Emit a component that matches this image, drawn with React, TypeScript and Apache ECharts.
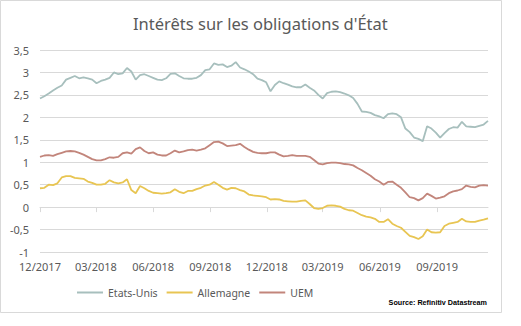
import React, { useEffect, useRef } from "react";
import * as echarts from "echarts";

// Weekly readings (Friday closes) starting 2017-12-01, one value per week
const usRates = [
  2.42, 2.47, 2.53, 2.60, 2.66, 2.71, 2.84, 2.88, 2.92, 2.87,
  2.89, 2.87, 2.84, 2.76, 2.81, 2.84, 2.88, 3.00, 2.96, 2.98,
  3.10, 3.02, 2.84, 2.94, 2.96, 2.92, 2.88, 2.84, 2.83, 2.87,
  2.97, 2.98, 2.92, 2.87, 2.86, 2.86, 2.88, 2.94, 3.05, 3.07,
  3.20, 3.17, 3.18, 3.12, 3.15, 3.23, 3.11, 3.07, 3.02, 2.96,
  2.86, 2.83, 2.78, 2.58, 2.72, 2.80, 2.76, 2.73, 2.69, 2.67,
  2.67, 2.73, 2.66, 2.60, 2.50, 2.42, 2.54, 2.57, 2.58, 2.56,
  2.53, 2.49, 2.43, 2.30, 2.13, 2.12, 2.10, 2.05, 2.02, 1.98,
  2.07, 2.09, 2.07, 2.00, 1.75, 1.67, 1.55, 1.52, 1.47, 1.80,
  1.75, 1.66, 1.55, 1.65, 1.74, 1.78, 1.77, 1.90, 1.80, 1.79,
  1.78, 1.81, 1.84, 1.92,
];

const deRates = [
  0.42, 0.43, 0.50, 0.49, 0.53, 0.66, 0.69, 0.69, 0.65, 0.64,
  0.63, 0.57, 0.54, 0.50, 0.50, 0.52, 0.60, 0.55, 0.53, 0.55,
  0.62, 0.38, 0.31, 0.47, 0.42, 0.36, 0.32, 0.31, 0.30, 0.31,
  0.33, 0.40, 0.34, 0.31, 0.36, 0.36, 0.40, 0.43, 0.48, 0.50,
  0.56, 0.50, 0.43, 0.39, 0.43, 0.42, 0.38, 0.35, 0.28, 0.26,
  0.25, 0.24, 0.22, 0.17, 0.18, 0.17, 0.14, 0.13, 0.12, 0.12,
  0.14, 0.15, 0.07, -0.02, -0.04, -0.02, 0.03, 0.04, 0.03, 0.01,
  -0.04, -0.07, -0.08, -0.13, -0.18, -0.21, -0.23, -0.26, -0.33, -0.33,
  -0.27, -0.37, -0.42, -0.46, -0.55, -0.64, -0.67, -0.71, -0.65, -0.50,
  -0.56, -0.57, -0.56, -0.42, -0.37, -0.35, -0.33, -0.26, -0.32, -0.33,
  -0.33, -0.30, -0.28, -0.25,
];

const uemRates = [
  1.12, 1.15, 1.16, 1.14, 1.18, 1.21, 1.24, 1.25, 1.24, 1.21,
  1.17, 1.12, 1.07, 1.04, 1.04, 1.07, 1.11, 1.10, 1.12, 1.20,
  1.22, 1.19, 1.29, 1.33, 1.25, 1.20, 1.22, 1.17, 1.15, 1.15,
  1.20, 1.26, 1.22, 1.24, 1.27, 1.28, 1.26, 1.28, 1.31, 1.38,
  1.45, 1.46, 1.42, 1.36, 1.37, 1.38, 1.41, 1.34, 1.28, 1.23,
  1.21, 1.20, 1.20, 1.22, 1.22, 1.17, 1.13, 1.14, 1.16, 1.14,
  1.14, 1.14, 1.12, 1.05, 0.97, 0.95, 0.98, 0.99, 0.99, 0.98,
  0.96, 0.95, 0.93, 0.87, 0.82, 0.76, 0.70, 0.62, 0.57, 0.50,
  0.56, 0.57, 0.50, 0.43, 0.33, 0.22, 0.20, 0.15, 0.20, 0.30,
  0.25, 0.19, 0.21, 0.24, 0.31, 0.35, 0.37, 0.40, 0.48, 0.45,
  0.44, 0.48, 0.49, 0.48,
];

const seriesNames = ["Etats-Unis", "Allemagne", "UEM"];
const seriesColors = ["#a7bfbd", "#e8c552", "#c2857b"];
const tickMonths = ["12", "03", "06", "09"];
const yTicks = { min: -1, max: 3.5, interval: 0.5 };

const START = Date.UTC(2017, 11, 1);
const DAY = 86400000;
const N_DAYS = (usRates.length - 1) * 7 + 1;
const categories = Array.from({ length: N_DAYS }, (_, d) =>
  new Date(START + d * DAY).toISOString().slice(0, 10)
);

const isQuarterTick = (_i: number, v: string) =>
  v.slice(8, 10) === "01" && tickMonths.includes(v.slice(5, 7));

const FONT = "Noto Sans";

export default function App() {
  const ref = useRef<HTMLDivElement>(null);
  useEffect(() => {
    if (!ref.current) return;
    const chart = echarts.init(ref.current, undefined, { renderer: "svg" });
    const toPairs = (arr: number[]) => arr.map((v, i) => [i * 7, v]);
    const all = [usRates, deRates, uemRates];
    chart.setOption({
      animation: false,
      backgroundColor: "#ffffff",
      title: {
        text: "Intérêts sur les obligations d'État",
        left: 128,
        top: 10,
        textStyle: { fontFamily: FONT, fontSize: 16.5, fontWeight: "normal", color: "#595959" },
      },
      grid: { left: 40, right: 33, top: 50, bottom: 74, containLabel: false, outerBoundsMode: "none" },
      legend: {
        left: 72,
        top: 282,
        itemWidth: 26,
        itemHeight: 2,
        itemGap: 9,
        icon: "rect",
        data: seriesNames,
        textStyle: { fontFamily: FONT, fontSize: 10.5, color: "#595959" },
      },
      xAxis: [
        {
          type: "category",
          data: categories,
          boundaryGap: false,
          position: "bottom",
          axisLine: { show: true, onZero: true, lineStyle: { color: "#d9d9d9", width: 1 } },
          axisTick: { show: true, interval: isQuarterTick, length: 5, lineStyle: { color: "#d9d9d9" } },
          axisLabel: { show: false },
          splitLine: { show: false },
        },
        {
          type: "category",
          data: categories,
          boundaryGap: false,
          position: "bottom",
          axisLine: { show: false, onZero: false },
          axisTick: { show: false },
          axisLabel: {
            show: true,
            interval: isQuarterTick,
            margin: 9,
            formatter: (v: string) => `${v.slice(5, 7)}/${v.slice(0, 4)}`,
            fontFamily: FONT,
            fontSize: 11,
            color: "#595959",
          },
          splitLine: { show: false },
        },
      ],
      yAxis: {
        type: "value",
        min: yTicks.min,
        max: yTicks.max,
        interval: yTicks.interval,
        axisLine: { show: false },
        axisTick: { show: false },
        axisLabel: {
          margin: 11,
          fontFamily: FONT,
          fontSize: 11,
          color: "#595959",
          formatter: (v: number) => String(v).replace(".", ","),
        },
        splitLine: { lineStyle: { color: "#d9d9d9", width: 1 } },
      },
      series: seriesNames.map((name, k) => ({
        name,
        type: "line",
        xAxisIndex: 0,
        data: toPairs(all[k]),
        showSymbol: false,
        symbol: "none",
        lineStyle: { color: seriesColors[k], width: 1.8 },
        itemStyle: { color: seriesColors[k] },
      })),
      graphic: [
        {
          type: "rect",
          shape: { x: 0.5, y: 0.5, width: 501, height: 312 },
          style: { fill: "none", stroke: "#d9d9d9", lineWidth: 1 },
          silent: true,
        },
        {
          type: "text",
          x: 487,
          y: 302,
          scaleX: 0.9,
          style: {
            text: "Source: Refinitiv Datastream",
            fontFamily: "Liberation Sans",
            fontSize: 8,
            fontWeight: "bold",
            fill: "#000000",
            align: "right",
            verticalAlign: "middle",
          },
        },
      ],
    });
    return () => chart.dispose();
  }, []);
  return (
    <div
      ref={ref}
      style={{ position: "fixed", left: 0, top: 0, width: 521, height: 326, background: "#fff" }}
    />
  );
}
